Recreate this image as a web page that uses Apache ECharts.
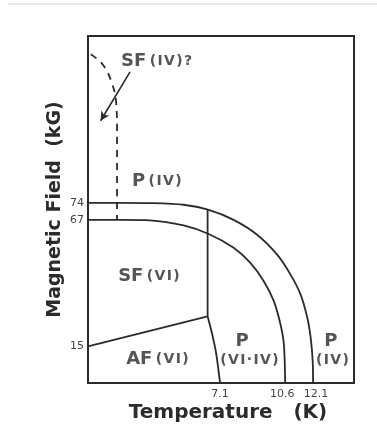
<!DOCTYPE html>
<html>
<head>
<meta charset="utf-8">
<script src="https://cdn.jsdelivr.net/npm/echarts@6/dist/echarts.min.js"></script>
<style>
  html, body { margin: 0; padding: 0; background: #fff; }
  #chart { width: 377px; height: 428px; }
</style>
</head>
<body>
<div id="chart"></div>
<script>
// Phase boundaries: temperature (K) against magnetic field (kG)
const outerBoundaryT = [0, 1.8, 3.34, 5.14, 6.49, 7.83, 9.09, 10.17, 10.89, 11.43, 11.79, 11.97, 12.08, 12.1];
const outerBoundaryH = [74, 74, 73.9, 73.2, 71.1, 67.0, 60.9, 52.7, 44.5, 36.3, 26.8, 18.6, 9.0, 0];
const innerBoundaryT = [0, 1.8, 3.34, 5.14, 6.49, 7.83, 8.73, 9.45, 9.99, 10.35, 10.53, 10.6];
const innerBoundaryH = [67, 67, 66.8, 64.7, 61.2, 55.5, 49.3, 41.8, 33.6, 24.0, 15.8, 0];
const sfPBoundaryT = [6.43, 6.43];
const sfPBoundaryH = [71.2, 27.4];
const afSfBoundaryT = [0, 6.43];
const afSfBoundaryH = [15, 27.4];
const afPBoundaryT = [6.43, 6.68, 6.9, 7.1];
const afPBoundaryH = [27.4, 19.9, 11.7, 0];
const sfIvBoundaryT = [0.15, 0.81, 1.29, 1.51, 1.56, 1.56];
const sfIvBoundaryH = [135, 130.6, 123, 115.4, 104, 66.8];
const xTickLabels = [7.1, 10.6, 12.1];
const yTickLabels = [15, 67, 74];

const zip = (xs, ys) => xs.map((x, i) => [x, ys[i]]);

const ink = '#2b2b2b';
const fontFamily = '"DejaVu Sans", "Liberation Sans", sans-serif';
const hair = '\u200A';
const spaced = s => s.split('').join(hair);

function boundary(name, xs, ys, extra) {
  return Object.assign({
    name: name,
    type: 'line',
    data: zip(xs, ys),
    symbol: 'none',
    silent: true,
    lineStyle: { color: ink, width: 1.8 },
    z: 3
  }, extra || {});
}

const rich = {
  big: { fontFamily, fontWeight: 'bold', fontSize: 18, color: ink },
  small: { fontFamily, fontWeight: 'bold', fontSize: 14, color: ink }
};

function regionLabel(value, text, align) {
  return {
    value: value,
    label: {
      show: true,
      position: align === 'left' ? 'right' : 'inside',
      distance: 0,
      formatter: text,
      rich: rich
    }
  };
}

// the two close tick labels on the temperature axis are nudged apart
const tickText = { fontFamily, fontSize: 11, color: '#444' };
function xTickFormatter(v) {
  if (v === 10.6) return '{l|' + v + '}';
  if (v === 12.1) return '{r|' + v + '}';
  return '{c|' + v + '}';
}

const chart = echarts.init(document.getElementById('chart'), null, { renderer: 'canvas' });

chart.setOption({
  animation: false,
  backgroundColor: '#fff',
  grid: {
    left: 88, top: 36, right: 23, bottom: 44,
    show: true, borderColor: ink, borderWidth: 2
  },
  xAxis: {
    type: 'value', min: 0, max: 14.3,
    axisLine: { show: false }, axisTick: { show: false }, splitLine: { show: false },
    axisLabel: {
      customValues: xTickLabels, margin: 6,
      formatter: xTickFormatter,
      rich: {
        c: tickText,
        l: Object.assign({ padding: [0, 6, 0, 0] }, tickText),
        r: Object.assign({ padding: [0, 0, 0, 6] }, tickText)
      }
    },
    name: 'Temperature   (K)', nameLocation: 'middle', nameGap: 20, nameMoveOverlap: false,
    nameTextStyle: { fontFamily, fontWeight: 'bold', fontSize: 20, color: ink, padding: [0, 0, 0, 14] }
  },
  yAxis: {
    type: 'value', min: 0, max: 142.5,
    axisLine: { show: false }, axisTick: { show: false }, splitLine: { show: false },
    axisLabel: {
      customValues: yTickLabels, margin: 4,
      fontFamily, fontSize: 11, color: '#444'
    },
    name: 'Magnetic Field  (kG)', nameLocation: 'middle', nameGap: 23, nameMoveOverlap: false,
    nameTextStyle: { fontFamily, fontWeight: 'bold', fontSize: 19, color: ink }
  },
  graphic: [{
    type: 'line', shape: { x1: 8, y1: 4, x2: 377, y2: 4 },
    style: { stroke: '#e9e9e9', lineWidth: 2 }, silent: true
  }],
  series: [
    boundary('P(IV) boundary', outerBoundaryT, outerBoundaryH, { smooth: 0.3 }),
    boundary('SF(VI) boundary', innerBoundaryT, innerBoundaryH, { smooth: 0.3 }),
    boundary('SF-P', sfPBoundaryT, sfPBoundaryH),
    boundary('AF-SF', afSfBoundaryT, afSfBoundaryH, {
      markLine: {
        silent: true,
        symbol: ['none', 'arrow'], symbolSize: [7, 9],
        lineStyle: { color: ink, width: 1.6, type: 'solid' },
        label: { show: false },
        data: [[{ coord: [2.26, 127.8] }, { coord: [0.68, 107.7] }]]
      }
    }),
    boundary('AF-P', afPBoundaryT, afPBoundaryH, { smooth: 0.2 }),
    boundary('SF(IV) boundary', sfIvBoundaryT, sfIvBoundaryH, {
      smooth: 0.4,
      lineStyle: { color: ink, width: 1.8, type: [7, 6] }
    }),
    {
      name: 'regions',
      type: 'scatter',
      symbolSize: 0,
      silent: true,
      z: 5,
      data: [
        regionLabel([1.78, 132.2], '{big|SF} {small|' + spaced('(IV)?') + '}', 'left'),
        regionLabel([2.37, 83], '{big|P} {small|' + spaced('(IV)') + '}', 'left'),
        regionLabel([1.62, 43.7], '{big|SF} {small|' + spaced('(VI)') + '}', 'left'),
        regionLabel([2.05, 9.7], '{big|AF} {small|' + spaced('(VI)') + '}', 'left'),
        regionLabel([8.29, 17.2], '{big|P}', 'center'),
        regionLabel([8.68, 9.4], '{small|' + spaced('(VI·IV)') + '}', 'center'),
        regionLabel([13.05, 17.2], '{big|P}', 'center'),
        regionLabel([13.14, 9.4], '{small|' + spaced('(IV)') + '}', 'center')
      ]
    }
  ]
});
</script>
</body>
</html>
